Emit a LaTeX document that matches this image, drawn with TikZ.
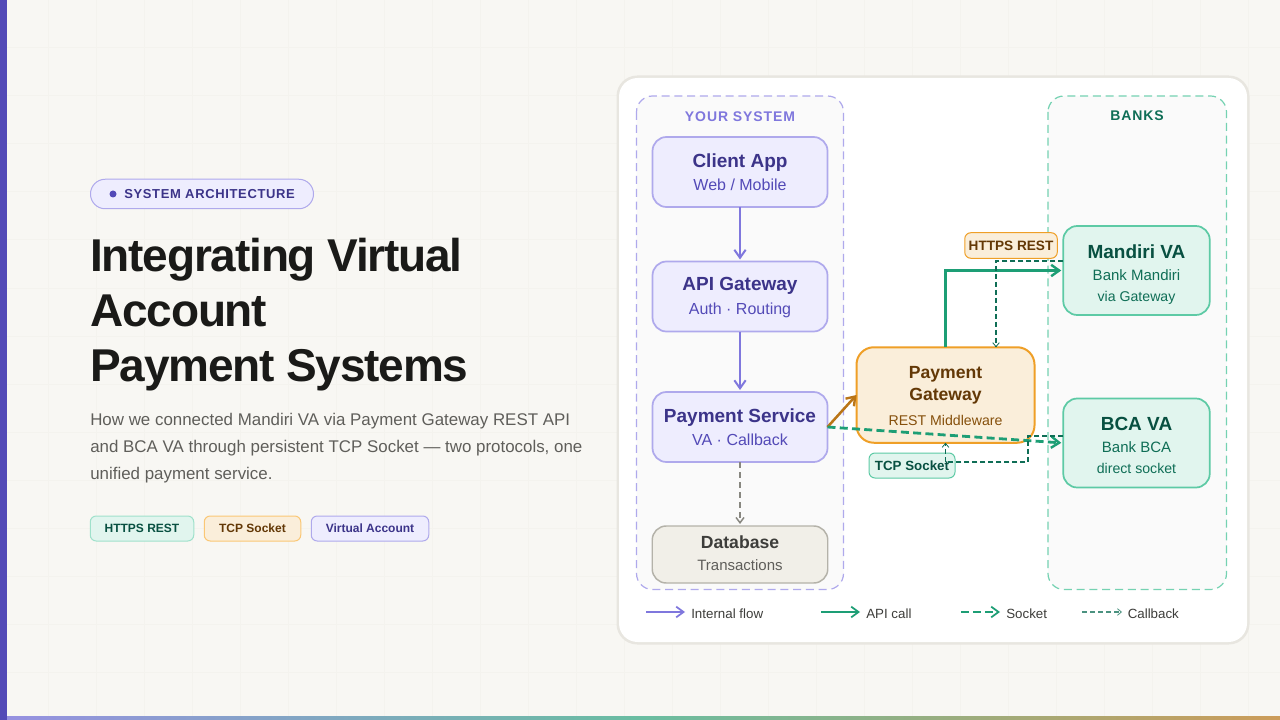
\documentclass[tikz,border=0pt]{standalone}
\usepackage{fontspec}
\setmainfont{Liberation Sans}
\usetikzlibrary{arrows.meta,calc}
\definecolor{bgc}{HTML}{F8F7F3}
\definecolor{gridc}{HTML}{F4F3EE}
\definecolor{barc}{HTML}{534AB7}
\definecolor{pfill}{HTML}{EEEDFE}
\definecolor{pline}{HTML}{AFA9EC}
\definecolor{pdark}{HTML}{3C3489}
\definecolor{pmid}{HTML}{534AB7}
\definecolor{parrow}{HTML}{7F77DD}
\definecolor{gfill}{HTML}{E1F5EE}
\definecolor{gline}{HTML}{5DCAA5}
\definecolor{gsoft}{HTML}{9FE1CB}
\definecolor{gdark}{HTML}{085041}
\definecolor{gmid}{HTML}{0F6E56}
\definecolor{garrow}{HTML}{1D9E75}
\definecolor{afill}{HTML}{FAEEDA}
\definecolor{aline}{HTML}{EF9F27}
\definecolor{asoft}{HTML}{FAC775}
\definecolor{adark}{HTML}{633806}
\definecolor{amid}{HTML}{854F0B}
\definecolor{aarrow}{HTML}{BA7517}
\definecolor{nfill}{HTML}{F1EFE8}
\definecolor{nline}{HTML}{B4B2A9}
\definecolor{ndark}{HTML}{3D3D3A}
\definecolor{nmid}{HTML}{5F5E5A}
\definecolor{narrow}{HTML}{888780}
\definecolor{inkc}{HTML}{1A1A18}
\definecolor{cardline}{HTML}{E8E6E0}
\definecolor{groupfill}{HTML}{FAFAFA}
\newcommand{\ttl}[1]{{\fontsize{14.25pt}{16pt}\selectfont\bfseries #1}}
\newcommand{\ttm}[1]{{\fontsize{13.2pt}{16pt}\selectfont\bfseries #1}}
\newcommand{\sbt}[1]{{\fontsize{12pt}{16pt}\selectfont\color{pmid} #1}}
\newcommand{\sbs}[1]{{\fontsize{11.25pt}{16pt}\selectfont #1}}
\newcommand{\sbx}[1]{{\fontsize{10.6pt}{16pt}\selectfont #1}}
\newcommand{\tallrule}[1]{\rule{0pt}{#1}}
\newcommand{\deeprule}[1]{\rule[-#1]{0pt}{#1}}
\tikzset{
  wh/.style 2 args={minimum width=#1*0.75pt,minimum height=#2*0.75pt,inner sep=0pt,outer sep=0pt},
  boxbase/.style={draw,rounded corners=10.5pt,line width=1.3pt,align=center,font=\fontsize{12pt}{16pt}\selectfont},
  purplebox/.style={boxbase,fill=pfill,draw=pline,text=pdark},
  greybox/.style={boxbase,line width=1.1pt,fill=nfill,draw=nline,text=ndark},
  greenbox/.style={boxbase,fill=gfill,draw=gline,text=gdark},
  amberbox/.style={boxbase,rounded corners=13pt,line width=1.5pt,fill=afill,draw=aline,text=adark},
  tagbase/.style={draw,rounded corners=4.5pt,line width=0.75pt,font=\fontsize{9pt}{11pt}\selectfont\bfseries},
  taggreen/.style={tagbase,fill=gfill,draw=gsoft,text=gdark},
  tagamber/.style={tagbase,fill=afill,draw=asoft,text=adark},
  tagpurple/.style={tagbase,fill=pfill,draw=pline,text=pdark},
  edgelabelgreen/.style={tagbase,fill=gfill,draw=gline,font=\fontsize{10pt}{12pt}\selectfont\bfseries,text=gdark},
  edgelabelamber/.style={tagbase,fill=afill,draw=aline,font=\fontsize{10.2pt}{12pt}\selectfont\bfseries,text=adark},
  groupbox/.style={rounded corners=12pt,line width=0.9pt,dash pattern=on 6pt off 3.6pt,fill=groupfill},
  grouptitle/.style={font=\fontsize{10.5pt}{12pt}\selectfont\bfseries\addfontfeature{LetterSpace=6.5}},
  head/.style={-{Straight Barb[length=6pt,width=8.5pt,line width=#1]}},
  flow/.style={parrow,line width=1.5pt,head=1.5pt,shorten >=1.5pt},
  apicall/.style={garrow,line width=2.1pt,head=1.8pt,shorten >=1.5pt},
  socketline/.style={garrow,line width=2.1pt,dash pattern=on 6pt off 3.2pt,-{Straight Barb[length=6pt,width=8.5pt,line width=1.8pt]},shorten >=1.5pt},
  callback/.style={gmid,line width=0.85pt,dash pattern=on 3.8pt off 2.2pt,-{Straight Barb[length=3pt,width=5pt,line width=0.6pt]}},
  legendtext/.style={anchor=base west,inner sep=0pt,font=\fontsize{10pt}{12pt}\selectfont,text=ndark},
}
\begin{document}
\begin{tikzpicture}[x=0.75pt,y=-0.75pt]
\useasboundingbox (0,0) rectangle (1280,720);
\fill[bgc] (0,0) rectangle (1280,720);
\foreach \gx in {48,96,...,1272} \draw[gridc,line width=0.75pt] (\gx,0) -- (\gx,720);
\foreach \gy in {48,96,...,700} \draw[gridc,line width=0.75pt] (0,\gy) -- (1280,\gy);
\shade[left color=parrow!80!bgc,right color=aarrow!70!bgc,middle color=garrow!65!bgc] (0,716) rectangle (1280,720);
\fill[barc] (0,0) rectangle (7,720);

% left column
\node[draw=pline,fill=pfill,line width=0.75pt,rounded corners=11pt,wh={223}{29.5}] (pill) at (202,194) {};
\fill[pmid] (113,194) circle (3.5);
\node[anchor=base west,inner sep=0pt,text=pdark,font=\fontsize{9.75pt}{12pt}\selectfont\bfseries\addfontfeature{LetterSpace=5}] (pilltext) at (124,198.5) {SYSTEM ARCHITECTURE};
\node[anchor=north west,inner sep=0pt,align=left,text=inkc,font=\fontsize{34.5pt}{41.25pt}\selectfont\bfseries\addfontfeature{LetterSpace=-2.6}] (headline) at (90,238) {Integrating Virtual\\Account\\Payment Systems};
\node[anchor=north west,inner sep=0pt,align=left,text=nmid,font=\fontsize{12.68pt}{20.25pt}\selectfont] (lede) at (90,413) {How we connected Mandiri VA via Payment Gateway REST API\\and BCA VA through persistent TCP Socket — two protocols, one\\unified payment service.};
\node[taggreen,wh={103.5}{25}] (t1) at (142,528.5) {HTTPS REST};
\node[tagamber,wh={96.5}{25}] (t2) at (252.5,528.5) {TCP Socket};
\node[tagpurple,wh={117.5}{25}] (t3) at (370,528.5) {Virtual Account};

% card
\fill[cardline,rounded corners=15.5pt] (616.5,75.5) rectangle (1249.5,644.5);
\fill[white,rounded corners=14pt] (619,78) rectangle (1247,642);
\draw[groupbox,draw=pline] (636.5,96) rectangle (843.5,589.5);
\draw[groupbox,draw=gline!85!white] (1048,96) rectangle (1226.5,589.5);
\node[grouptitle,text=parrow] (ys) at (740,116.5) {YOUR SYSTEM};
\node[grouptitle,text=gmid] (bk) at (1137,116) {BANKS};

% boxes
\node[purplebox,wh={175}{70}] (client) at (740,172) {\ttl{Client App}\\[1.5pt]\sbt{Web / Mobile}};
\node[purplebox,wh={175}{70}] (api) at (740,296.5) {\tallrule{12pt}\ttl{API Gateway}\\[2pt]\sbt{Auth · Routing}};
\node[purplebox,wh={175}{70}] (svc) at (740,427) {\ttl{Payment Service}\\[1.5pt]\sbt{VA · Callback}};
\node[greybox,wh={175.5}{57}] (db) at (740,554.5) {\ttm{Database}\\[0.25pt]{\color{nmid}\sbs{Transactions}}\deeprule{2.2pt}};
\node[amberbox,wh={178}{95.5}] (gw) at (945.5,395) {\tallrule{11.2pt}\ttm{Payment}\\[0.5pt]\ttm{Gateway}\\[2.8pt]{\color{amid}\sbx{REST Middleware}}};
\node[greenbox,wh={146.5}{89}] (mandiri) at (1136.5,270.5) {\tallrule{16.3pt}\ttl{Mandiri VA}\\[0.25pt]{\color{gmid}\sbs{Bank Mandiri}}\\[0pt]{\color{gmid}\sbx{via Gateway}}\deeprule{2.3pt}};
\node[greenbox,wh={146.5}{89}] (bca) at (1136.5,443) {\tallrule{16.3pt}\ttl{BCA VA}\\[0.25pt]{\color{gmid}\sbs{Bank BCA}}\\[0pt]{\color{gmid}\sbx{direct socket}}\deeprule{2.3pt}};

% connector labels
\node[edgelabelamber,wh={92.5}{25.5}] (lhttps) at (1011,245.5) {HTTPS REST};
\node[edgelabelgreen,wh={86}{25}] (ltcp) at (912,465.5) {TCP Socket};

% connectors
\draw[flow] (client.south) -- (api.north);
\draw[flow] (api.south) -- (svc.north);
\draw[narrow,line width=1.5pt,dash pattern=on 4.5pt off 3pt,-{Straight Barb[length=4pt,width=6pt,line width=1.1pt]},shorten >=1.5pt] (svc.south) -- (db.north);
\draw[aarrow,line width=1.9pt,head=1.8pt] (svc.east) -- (gw.west);
\draw[apicall] (gw.north) |- (mandiri.west);
\draw[socketline] (svc.east) -- (bca.west);
\coordinate (cb1a) at ($(mandiri.west)+(0,-9.5)$);
\coordinate (cb1b) at (996,261);
\coordinate (cb2a) at ($(bca.west)+(0,-7)$);
\coordinate (cb2b) at (1028,436);
\coordinate (cb2c) at (1028,462);
\coordinate (cb2d) at (945.5,462);
\draw[callback] (cb1a) -- (cb1b) -- (cb1b |- gw.north);
\draw[callback] (cb2a) -- (cb2b) -- (cb2c) -- (cb2d) -- (gw.south);

% legend
\coordinate (la1) at (646,612); \coordinate (la2) at (685,612);
\coordinate (lb1) at (821,612); \coordinate (lb2) at (860,612);
\coordinate (lc1) at (961,612); \coordinate (lc2) at (1000,612);
\coordinate (ld1) at (1082,612); \coordinate (ld2) at (1122,612);
\draw[parrow,line width=1.5pt,-{Straight Barb[length=5.5pt,width=8pt,line width=1.3pt]}] (la1) -- (la2);
\draw[garrow,line width=1.5pt,-{Straight Barb[length=5.5pt,width=8pt,line width=1.3pt]}] (lb1) -- (lb2);
\draw[garrow,line width=1.5pt,dash pattern=on 6pt off 3pt,-{Straight Barb[length=5.5pt,width=8pt,line width=1.3pt]}] (lc1) -- (lc2);
\draw[gmid!75!white,line width=0.8pt,dash pattern=on 3.8pt off 2.2pt,-{Straight Barb[length=3pt,width=5pt,line width=0.6pt]}] (ld1) -- (ld2);
\node[legendtext] (lt1) at (691,618) {Internal flow};
\node[legendtext] (lt2) at (866,618) {API call};
\node[legendtext] (lt3) at (1006,618) {Socket};
\node[legendtext] (lt4) at (1127.5,618) {Callback};
\end{tikzpicture}
\end{document}
